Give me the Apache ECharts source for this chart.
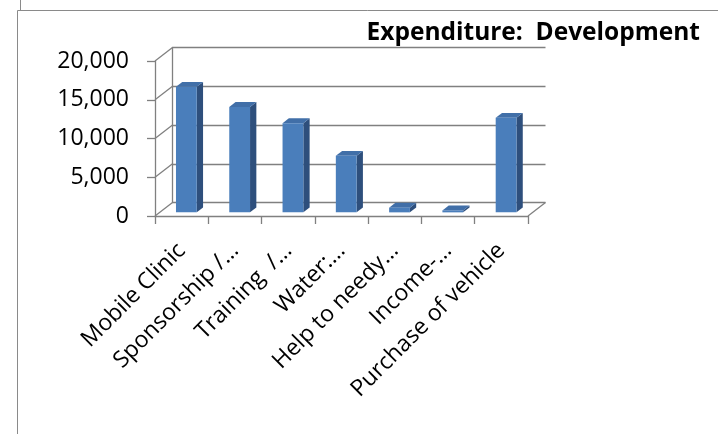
<!DOCTYPE html>
<html>
<head>
<meta charset="utf-8">
<script src="https://cdn.jsdelivr.net/npm/echarts@6/dist/echarts.min.js"></script>
<style>html,body{margin:0;padding:0;background:#fff}#c{width:718px;height:434px}</style>
</head>
<body>
<div id="c"></div>
<script>
const categories = ['Mobile Clinic', 'Sponsorship /…', 'Training  /…', 'Water:…', 'Help to needy…', 'Income-…', 'Purchase of vehicle'];
const values = [16200, 13600, 11500, 7300, 600, 250, 12200];
const yTicks = [0, 5000, 10000, 15000, 20000];
const titleText = 'Expenditure:  Development';

const DX = 17.5, DY = -13.5;       // depth projection of the pseudo-3D floor
const GRID = '#808080';
const FONT = 'Open Sans';

function fmt(v) { return String(v).replace(/\B(?=(\d{3})+(?!\d))/g, ','); }

const chart = echarts.init(document.getElementById('c'), null, {renderer: 'canvas'});
chart.setOption({
  animation: false,
  backgroundColor: '#fff',
  title: {
    text: titleText, right: 13, top: 16,
    textStyle: {fontFamily: FONT, fontSize: 24.5, fontWeight: 'bold', color: '#000'}
  },
  graphic: [
    {type: 'line', shape: {x1: 17.5, y1: 10.5, x2: 718, y2: 10.5}, style: {stroke: '#8a8a8a', lineWidth: 1}},
    {type: 'line', shape: {x1: 17.5, y1: 10.5, x2: 17.5, y2: 434}, style: {stroke: '#8a8a8a', lineWidth: 1}},
    {type: 'line', shape: {x1: 20.5, y1: 0, x2: 20.5, y2: 10.5}, style: {stroke: '#8a8a8a', lineWidth: 1}}
  ],
  grid: [
    {left: 155, top: 61, width: 373, height: 155},
    {left: 155 + DX, top: 61 + DY, width: 373, height: 155}
  ],
  xAxis: [
    {gridIndex: 0, type: 'category', data: categories,
     axisLine: {lineStyle: {color: GRID, width: 1.3}},
     axisTick: {show: true, length: 8, lineStyle: {color: GRID, width: 1.3}},
     axisLabel: {rotate: 45, interval: 0, margin: 31, fontFamily: FONT, fontSize: 23, color: '#000'}},
    {gridIndex: 1, type: 'category', data: categories, show: false}
  ],
  yAxis: [
    {gridIndex: 0, type: 'value', min: 0, max: 20000, interval: 5000,
     axisLine: {show: true, lineStyle: {color: GRID, width: 1.3}},
     axisTick: {show: true, length: 8, lineStyle: {color: GRID, width: 1.3}},
     splitLine: {show: false},
     axisLabel: {margin: 26, formatter: fmt, fontFamily: FONT, fontSize: 23, color: '#000'}},
    {gridIndex: 1, type: 'value', min: 0, max: 20000, interval: 5000,
     axisLine: {show: true, lineStyle: {color: GRID, width: 1.3}},
     axisTick: {show: false}, axisLabel: {show: false},
     splitLine: {show: true, lineStyle: {color: GRID, width: 1.3}}}
  ],
  series: [
    {
      type: 'custom', xAxisIndex: 0, yAxisIndex: 0, silent: true, z: 1,
      data: yTicks.map(v => [0, v]),
      renderItem: function (params, api) {
        const cs = params.coordSys;
        const v = api.value(1);
        const y = api.coord([0, v])[1];
        const children = [{
          type: 'line', shape: {x1: cs.x, y1: y, x2: cs.x + DX, y2: y + DY},
          style: {stroke: GRID, lineWidth: 1.3}
        }];
        if (v === 0) {
          children.push({
            type: 'line', shape: {x1: cs.x + cs.width, y1: y, x2: cs.x + cs.width + DX, y2: y + DY},
            style: {stroke: GRID, lineWidth: 1.3}
          });
        }
        return {type: 'group', children: children};
      }
    },
    {
      type: 'custom', xAxisIndex: 0, yAxisIndex: 0, silent: true, z: 3,
      data: values.map((v, i) => [i, v]),
      renderItem: function (params, api) {
        const i = api.value(0), v = api.value(1);
        const top = api.coord([i, v]);
        const base = api.coord([i, 0]);
        const bw = api.size([1, 0])[0];
        const w = bw * 0.39;
        const f0 = 0.27, fd = 0.36;
        const ox = f0 * DX, oy = f0 * DY;
        const sx = fd * DX, sy = fd * DY;
        const xl = top[0] - w / 2 + ox, xr = xl + w;
        const yt = top[1] + oy, yb = base[1] + oy;
        return {
          type: 'group',
          children: [
            {type: 'polygon', shape: {points: [[xr, yt], [xr + sx, yt + sy], [xr + sx, yb + sy], [xr, yb]]},
             style: {fill: '#2E4F7C'}},
            {type: 'polygon', shape: {points: [[xl, yt], [xr, yt], [xr + sx, yt + sy], [xl + sx, yt + sy]]},
             style: {fill: '#416FA8'}},
            {type: 'rect', shape: {x: xl, y: yt, width: w, height: yb - yt},
             style: {fill: '#4A7EBB'}}
          ]
        };
      }
    }
  ]
});
</script>
</body>
</html>
